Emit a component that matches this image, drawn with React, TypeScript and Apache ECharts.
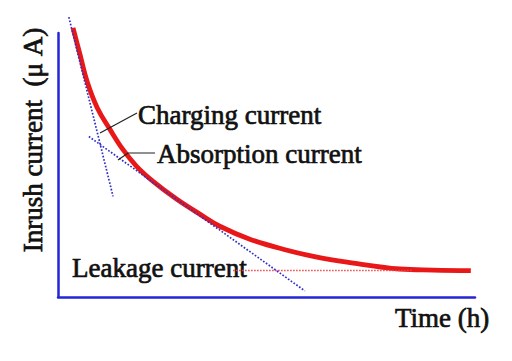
import React, { useEffect, useRef } from "react";
import * as echarts from "echarts";

// Inrush current curve (time in h, current in µA, arbitrary units)
const timeH = [0.36, 0.53, 0.7, 0.94, 1.25, 1.56, 1.89, 2.28, 2.85, 3.41, 3.88, 4.6, 5.4, 6.21, 6.93, 8.2, 9.0, 9.9];
const inrush = [10.19, 9.17, 8.15, 7.17, 6.34, 5.58, 4.94, 4.38, 3.7, 3.13, 2.68, 2.19, 1.81, 1.51, 1.32, 1.06, 1.02, 1.0];

// Tangent / asymptote lines
const chargingX = [0.26, 1.32];
const chargingY = [10.6, 3.81];
const absorptionX = [0.74, 5.92];
const absorptionY = [6.08, 0.23];
const leakageX = [4.2, 8.5];
const leakageY = [1.0, 1.0];

const labels = {
  charging: "Charging current",
  absorption: "Absorption current",
  leakage: "Leakage current",
  xName: "Time (h)",
  yName: "Inrush current  (μ A)",
};

const FONT = "Liberation Serif";

function pairs(xs: number[], ys: number[]) {
  return xs.map((x, i) => [x, ys[i]]);
}

export default function App() {
  const ref = useRef<HTMLDivElement>(null);
  useEffect(() => {
    if (!ref.current) return;
    const chart = echarts.init(ref.current, null, { renderer: "svg" });
    const axisCommon = {
      type: "value" as const,
      min: 0,
      max: 10,
      axisLine: { show: true, lineStyle: { color: "#2424d8", width: 2.5 } },
      axisTick: { show: false },
      axisLabel: { show: false },
      splitLine: { show: false },
    };
    const textStyle = (t: string) => ({
      text: t,
      fontSize: 27,
      fontFamily: FONT,
      fill: "#111",
      stroke: "#111",
      lineWidth: 0.7,
      align: "left",
      verticalAlign: "middle",
    });
    chart.setOption({
      animation: false,
      backgroundColor: "#fff",
      grid: { left: 58, right: 37, top: 33, bottom: 64 },
      xAxis: axisCommon,
      yAxis: axisCommon,
      series: [
        {
          type: "line",
          data: pairs(timeH, inrush),
          smooth: 0.4,
          symbol: "none",
          clip: false,
          lineStyle: { color: "#e81818", width: 4.8 },
          z: 2,
        },
        {
          type: "line",
          data: pairs(leakageX, leakageY),
          symbol: "none",
          clip: false,
          lineStyle: { color: "#e84848", width: 1.5, type: "dotted" },
          z: 3,
        },
        {
          type: "line",
          data: pairs(chargingX, chargingY),
          symbol: "none",
          clip: false,
          lineStyle: { color: "#3030c8", width: 1.7, type: "dotted" },
          z: 4,
        },
        {
          type: "line",
          data: pairs(absorptionX, absorptionY),
          symbol: "none",
          clip: false,
          lineStyle: { color: "#3030c8", width: 1.7, type: "dotted" },
          z: 4,
        },
      ],
      graphic: [
        {
          type: "polyline",
          shape: { points: [[100, 133], [137, 113]] },
          style: { stroke: "#222", lineWidth: 1.2, fill: "none" },
          z: 10,
        },
        {
          type: "polyline",
          shape: { points: [[118, 160], [128, 153], [155, 153]] },
          style: { stroke: "#222", lineWidth: 1.2, fill: "none" },
          z: 10,
        },
        { type: "text", x: 138, y: 115, style: textStyle(labels.charging), z: 10 },
        { type: "text", x: 157, y: 154, style: textStyle(labels.absorption), z: 10 },
        { type: "text", x: 72, y: 268, style: textStyle(labels.leakage), z: 1 },
        { type: "text", x: 395, y: 318, style: textStyle(labels.xName), z: 10 },
        {
          type: "text",
          x: 33,
          y: 140,
          rotation: Math.PI / 2,
          style: { ...textStyle(labels.yName), align: "center" },
          z: 10,
        },
      ],
    });
    return () => chart.dispose();
  }, []);
  return <div ref={ref} style={{ position: "absolute", left: 0, top: 0, width: 512, height: 361 }} />;
}
